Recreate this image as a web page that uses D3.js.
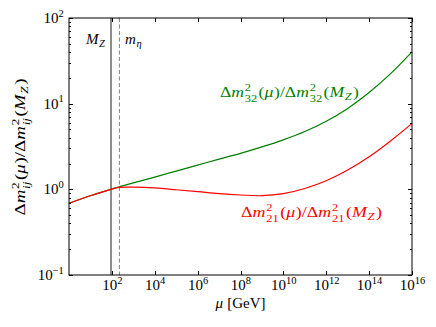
<!DOCTYPE html>
<html>
<head>
<meta charset="utf-8">
<script src="https://cdn.jsdelivr.net/npm/d3@7"></script>
<style>
  body { margin: 0; background: #fff; }
  svg { display: block; }
</style>
</head>
<body>
<svg id="chart" width="436" height="327"></svg>
<script>
// running scale in GeV
var muGeV = [1, 10, 91.19, 224, 1e3, 1e4, 1e5, 1e6, 1e7, 1e8, 1e9, 1e10, 1e11, 1e12, 1e13, 1e14, 1e15, 1e16];

// ratio dm2_32(mu)/dm2_32(MZ)
var ratio32 = [0.687, 0.841, 1.0, 1.072, 1.189, 1.39, 1.633, 1.919, 2.254, 2.63, 3.126, 3.784, 4.732, 6.237, 8.81, 13.49, 22.39, 40.27];
// ratio dm2_21(mu)/dm2_21(MZ)
var ratio21 = [0.687, 0.841, 1.0, 1.052, 1.059, 1.04, 0.989, 0.94, 0.891, 0.859, 0.843, 0.891, 1.023, 1.259, 1.679, 2.399, 3.673, 5.888];

var massMZ = 91.19, massEta = 224;

var xTickExp = [2, 4, 6, 8, 10, 12, 14, 16];
var yTickExp = [-1, 0, 1, 2];

var svg = d3.select("#chart"),
    pLeft = 69, pRight = 412, pTop = 18, pBottom = 275;

var x = d3.scaleLog().domain([1, 1e16]).range([pLeft, pRight]);
var y = d3.scaleLog().domain([0.1, 100]).range([pBottom, pTop]);

var FONT = "'Liberation Serif', 'DejaVu Serif', serif";

// small helper to lay out math-ish text piece by piece
function drawMath(g, tokens, size, color) {
    var cx = 0;
    function piece(txt, dx, dy, sz, it) {
        var t = g.append("text")
            .attr("x", cx + dx).attr("y", dy)
            .attr("font-family", FONT)
            .attr("font-size", sz)
            .attr("font-style", it ? "italic" : "normal")
            .attr("fill", color)
            .style("white-space", "pre")
            .text(txt);
        return t.node().getComputedTextLength();
    }
    tokens.forEach(function (tk) {
        if (tk.t !== undefined) {
            cx += piece(tk.t, 0, 0, size, tk.it);
            if (tk.it) cx += size * 0.04;
        } else {
            var w1 = 0, w2 = 0;
            if (tk.sup) w1 = piece(tk.sup, 0, -size * 0.42, size * 0.7, false);
            if (tk.sub) w2 = piece(tk.sub, 0, size * (tk.sup ? 0.32 : 0.22), size * 0.7, tk.subIt);
            cx += Math.max(w1, w2) + size * 0.08;
        }
    });
    return cx;
}

// reference lines
svg.append("line")
    .attr("x1", x(massMZ)).attr("x2", x(massMZ))
    .attr("y1", pTop).attr("y2", pBottom)
    .attr("stroke", "#808080").attr("stroke-width", 1.8);

svg.append("line")
    .attr("x1", x(massEta)).attr("x2", x(massEta))
    .attr("y1", pTop).attr("y2", pBottom)
    .attr("stroke", "#808080").attr("stroke-width", 1)
    .attr("stroke-dasharray", "4,2.5");

// curves
var line = d3.line()
    .x(function (d) { return x(d[0]); })
    .y(function (d) { return y(d[1]); })
    .curve(d3.curveCatmullRom.alpha(0.5));

svg.append("path")
    .datum(d3.zip(muGeV, ratio32))
    .attr("fill", "none").attr("stroke", "#008000").attr("stroke-width", 1.2)
    .attr("d", line);

svg.append("path")
    .datum(d3.zip(muGeV, ratio21))
    .attr("fill", "none").attr("stroke", "#ff0000").attr("stroke-width", 1.2)
    .attr("d", line);

// frame
svg.append("rect")
    .attr("x", pLeft).attr("y", pTop)
    .attr("width", pRight - pLeft).attr("height", pBottom - pTop)
    .attr("fill", "none").attr("stroke", "#000").attr("stroke-width", 1);

// ticks (inward, all four sides)
var ticks = svg.append("g").attr("stroke", "#000").attr("stroke-width", 1);
xTickExp.forEach(function (e) {
    var px = Math.round(x(Math.pow(10, e))) + 0.5;
    ticks.append("line").attr("x1", px).attr("x2", px).attr("y1", pBottom).attr("y2", pBottom - 4);
    ticks.append("line").attr("x1", px).attr("x2", px).attr("y1", pTop).attr("y2", pTop + 4);
});
yTickExp.forEach(function (e, i) {
    var py = Math.round(y(Math.pow(10, e))) + 0.5;
    ticks.append("line").attr("x1", pLeft).attr("x2", pLeft + 4).attr("y1", py).attr("y2", py);
    ticks.append("line").attr("x1", pRight).attr("x2", pRight - 4).attr("y1", py).attr("y2", py);
    if (i < yTickExp.length - 1) {
        for (var k = 2; k < 10; k++) {
            var my = Math.round(y(k * Math.pow(10, e))) + 0.5;
            ticks.append("line").attr("x1", pLeft).attr("x2", pLeft + 2).attr("y1", my).attr("y2", my);
            ticks.append("line").attr("x1", pRight).attr("x2", pRight - 2).attr("y1", my).attr("y2", my);
        }
    }
});

// tick labels
function expLabel(e) { return String(e).replace("-", "\u2212"); }

xTickExp.forEach(function (e) {
    var g = svg.append("g");
    var w = drawMath(g, [{t: "10"}, {sup: expLabel(e)}], 15, "#000");
    g.attr("transform", "translate(" + (x(Math.pow(10, e)) - w / 2 + 1) + "," + 290 + ")");
});
yTickExp.forEach(function (e) {
    var g = svg.append("g");
    var w = drawMath(g, [{t: "10"}, {sup: expLabel(e)}], 15, "#000");
    g.attr("transform", "translate(" + (pLeft - 4 - w) + "," + (y(Math.pow(10, e)) + 5) + ")");
});

// annotations
var gMZ = svg.append("g");
drawMath(gMZ, [{t: "M", it: 1}, {sub: "Z", subIt: 1}], 15, "#000");
gMZ.attr("transform", "translate(86,44)");

var gEta = svg.append("g");
drawMath(gEta, [{t: "m", it: 1}, {sub: "\u03b7", subIt: 1}], 15, "#000");
gEta.attr("transform", "translate(125,44)");

function ratioTokens(ij, ijIt) {
    return [{t: "\u0394"}, {t: "m", it: 1}, {sup: "2", sub: ij, subIt: ijIt},
        {t: "("}, {t: "\u03bc", it: 1}, {t: ")/\u0394"}, {t: "m", it: 1}, {sup: "2", sub: ij, subIt: ijIt},
        {t: "("}, {t: "M", it: 1}, {sub: "Z", subIt: 1}, {t: ")"}];
}

var gGreen = svg.append("g");
var wg = drawMath(gGreen, ratioTokens("32", 0), 15, "#008000");
gGreen.attr("transform", "translate(220,97) scale(" + (139 / wg) + ",1)");

var gRed = svg.append("g");
var wr = drawMath(gRed, ratioTokens("21", 0), 15, "#ff0000");
gRed.attr("transform", "translate(241,217) scale(" + (141 / wr) + ",1)");

// axis labels
var gX = svg.append("g");
var wx = drawMath(gX, [{t: "\u03bc", it: 1}, {t: "\u00a0[GeV]"}], 15, "#000");
gX.attr("transform", "translate(" + ((pLeft + pRight) / 2 - wx / 2) + ",308)");

var gY = svg.append("g");
var inner = gY.append("g");
var wy = drawMath(inner, ratioTokens("ij", 1), 15, "#000");
inner.attr("transform", "scale(" + (137 / wy) + ",1) translate(" + (-wy / 2) + ",0)");
gY.attr("transform", "translate(25,147) rotate(-90)");
</script>
</body>
</html>
